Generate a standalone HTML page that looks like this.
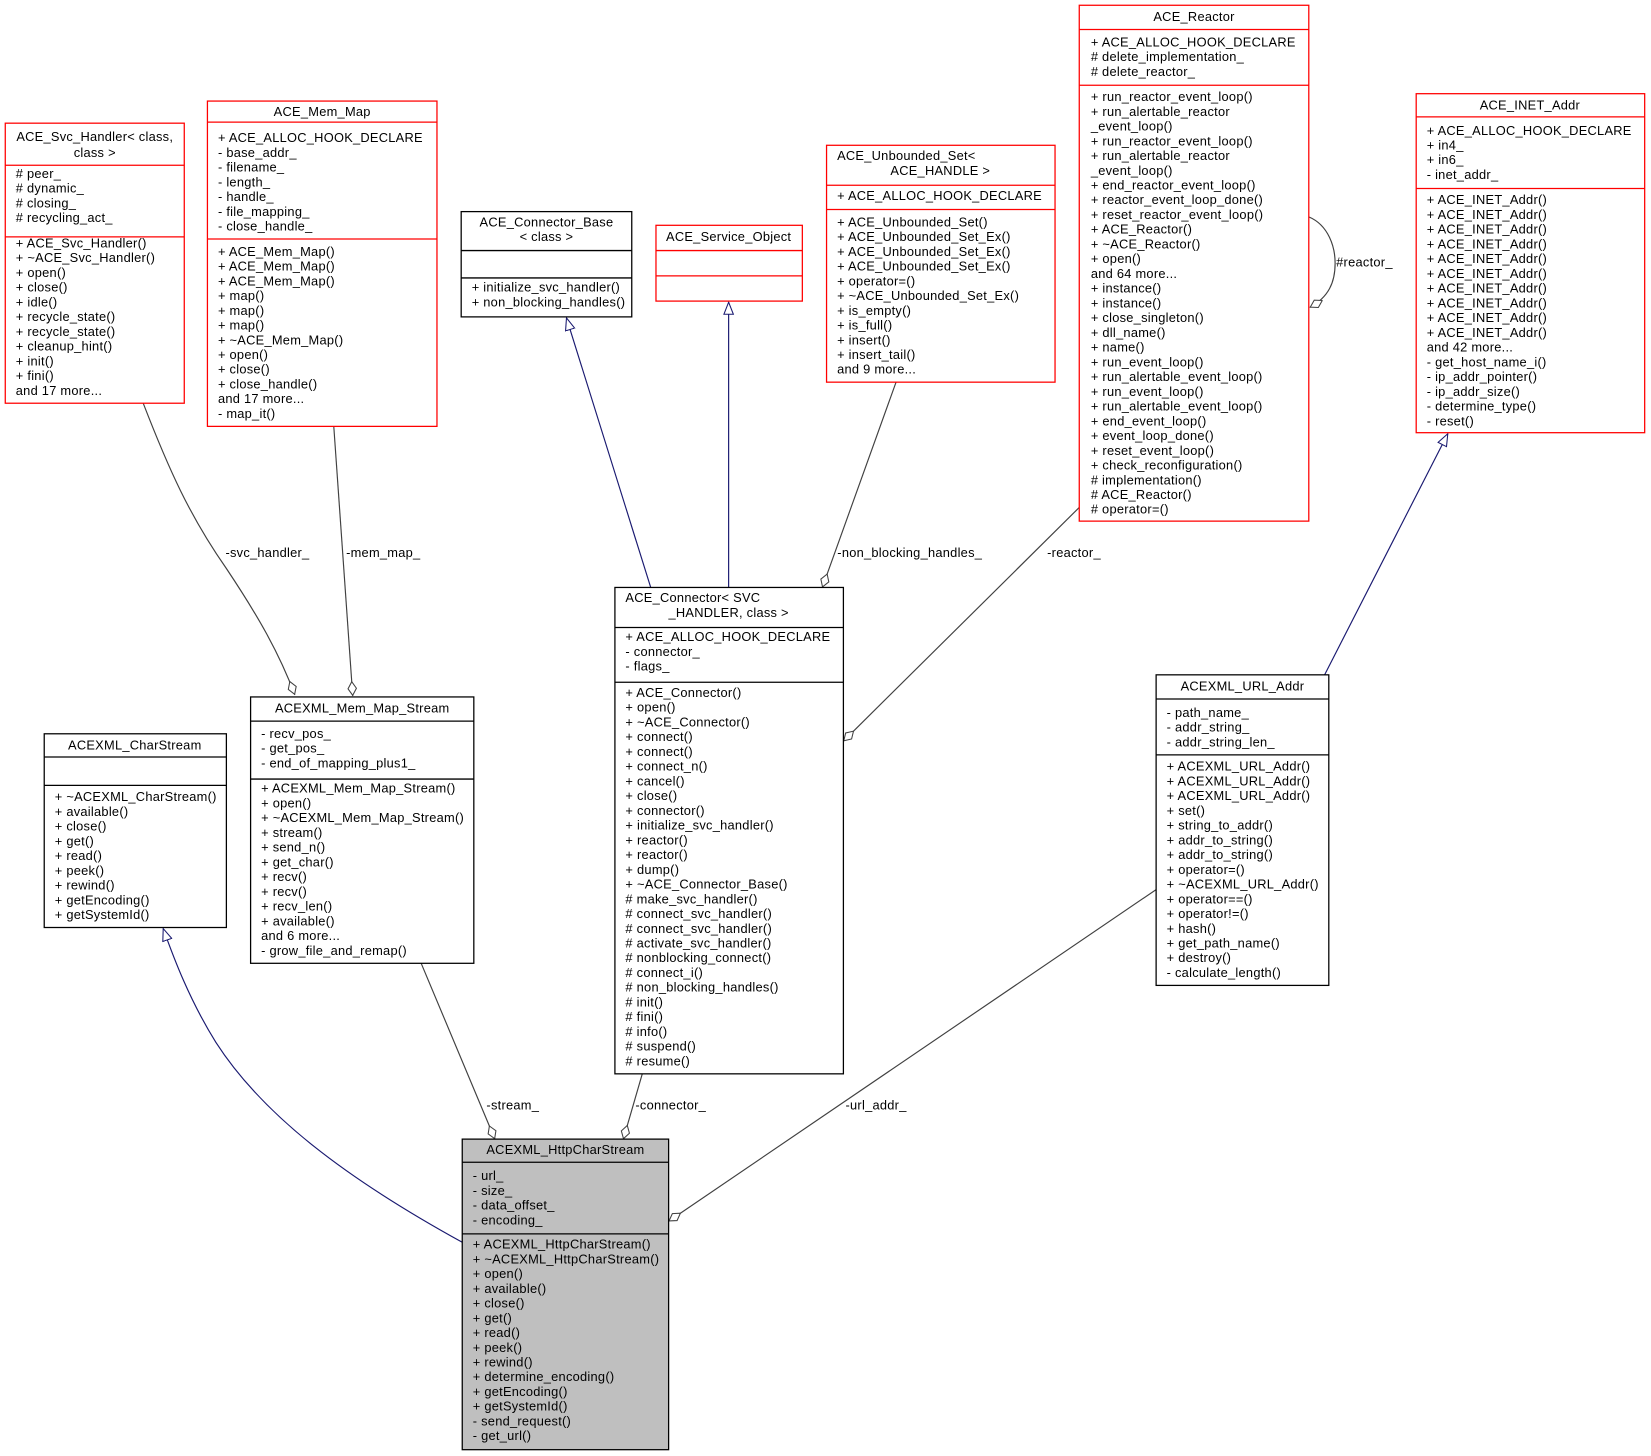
<!DOCTYPE html>
<html><head><meta charset="utf-8"><style>
html,body{margin:0;padding:0;background:#fff;}
svg{display:block;}
text{font-family:"Liberation Sans",Arial,sans-serif;font-size:12.2px;fill:#000;letter-spacing:0.25px;}
.r{fill:#fff;stroke:#ff0000;stroke-width:1.2;}
.b{fill:#fff;stroke:#000;stroke-width:1.2;}
.g{fill:#bfbfbf;stroke:#000;stroke-width:1.2;}
.lr{stroke:#ff0000;stroke-width:1.2;}
.lb{stroke:#000;stroke-width:1.2;}
.e{fill:none;stroke:#404040;stroke-width:1.1;}
.n{fill:none;stroke:#191970;stroke-width:1.1;}
.c{text-anchor:middle;}
</style></head><body>
<svg width="1651" height="1456" viewBox="0 0 1568 1383" preserveAspectRatio="none" xmlns="http://www.w3.org/2000/svg">
<defs>
<marker id="dia" markerUnits="userSpaceOnUse" markerWidth="16" markerHeight="10" refX="14" refY="5" orient="auto"><path d="M0.5,5 L7,1 L13.5,5 L7,9 z" fill="#fff" stroke="#404040" stroke-width="1"/></marker>
<marker id="tri" markerUnits="userSpaceOnUse" markerWidth="14" markerHeight="12" refX="12" refY="6" orient="auto"><path d="M0.5,1.5 L12,6 L0.5,10.5 z" fill="#fff" stroke="#191970" stroke-width="1"/></marker>
</defs>

<path class="e" d="M136,383 C160,445 180,490 215,540 C245,585 265,620 280,660" marker-end="url(#dia)"/>
<text class="c" x="254" y="529">-svc_handler_</text>
<path class="e" d="M317,405 L335,661" marker-end="url(#dia)"/>
<text class="c" x="364" y="529">-mem_map_</text>
<path class="n" d="M618,558 L538,302" marker-end="url(#tri)"/>
<path class="n" d="M692,558 L692,287" marker-end="url(#tri)"/>
<path class="e" d="M851,363 L781,558" marker-end="url(#dia)"/>
<text class="c" x="864" y="529">-non_blocking_handles_</text>
<path class="e" d="M1025,482 L801,704" marker-end="url(#dia)"/>
<text class="c" x="1020" y="529">-reactor_</text>
<path class="e" d="M1243,206 C1262,214 1268,235 1268,250 C1268,268 1262,282 1244,292" marker-end="url(#dia)"/>
<text x="1269" y="253">#reactor_</text>
<path class="n" d="M1258,641 L1375,412" marker-end="url(#tri)"/>
<path class="n" d="M439,1180 C330,1120 250,1060 205,990 C180,950 165,910 155,882" marker-end="url(#tri)"/>
<path class="e" d="M400,915 L470,1082" marker-end="url(#dia)"/>
<text class="c" x="487" y="1054">-stream_</text>
<path class="e" d="M610,1020 L592,1082" marker-end="url(#dia)"/>
<text class="c" x="637" y="1054">-connector_</text>
<path class="e" d="M1098,845 L635,1160" marker-end="url(#dia)"/>
<text class="c" x="832" y="1054">-url_addr_</text>

<rect class="r" x="5" y="117" width="170" height="266"/>
<line class="lr" x1="5" y1="157" x2="175" y2="157"/><line class="lr" x1="5" y1="225" x2="175" y2="225"/>
<text class="c" x="90" y="134">ACE_Svc_Handler&lt; class,</text><text class="c" x="90" y="149">class &gt;</text>
<text x="15" y="169"><tspan x="15"># peer_</tspan><tspan x="15" dy="14"># dynamic_</tspan><tspan x="15" dy="14"># closing_</tspan><tspan x="15" dy="14"># recycling_act_</tspan></text>
<text x="15" y="235"><tspan x="15">+ ACE_Svc_Handler()</tspan><tspan x="15" dy="14">+ ~ACE_Svc_Handler()</tspan><tspan x="15" dy="14">+ open()</tspan><tspan x="15" dy="14">+ close()</tspan><tspan x="15" dy="14">+ idle()</tspan><tspan x="15" dy="14">+ recycle_state()</tspan><tspan x="15" dy="14">+ recycle_state()</tspan><tspan x="15" dy="14">+ cleanup_hint()</tspan><tspan x="15" dy="14">+ init()</tspan><tspan x="15" dy="14">+ fini()</tspan><tspan x="15" dy="14">and 17 more...</tspan></text>

<rect class="r" x="197" y="96" width="218" height="309"/>
<line class="lr" x1="197" y1="116" x2="415" y2="116"/><line class="lr" x1="197" y1="227" x2="415" y2="227"/>
<text class="c" x="306" y="110">ACE_Mem_Map</text>
<text y="135"><tspan x="207">+ ACE_ALLOC_HOOK_DECLARE</tspan><tspan x="207" dy="14">- base_addr_</tspan><tspan x="207" dy="14">- filename_</tspan><tspan x="207" dy="14">- length_</tspan><tspan x="207" dy="14">- handle_</tspan><tspan x="207" dy="14">- file_mapping_</tspan><tspan x="207" dy="14">- close_handle_</tspan></text>
<text y="243"><tspan x="207">+ ACE_Mem_Map()</tspan><tspan x="207" dy="14">+ ACE_Mem_Map()</tspan><tspan x="207" dy="14">+ ACE_Mem_Map()</tspan><tspan x="207" dy="14">+ map()</tspan><tspan x="207" dy="14">+ map()</tspan><tspan x="207" dy="14">+ map()</tspan><tspan x="207" dy="14">+ ~ACE_Mem_Map()</tspan><tspan x="207" dy="14">+ open()</tspan><tspan x="207" dy="14">+ close()</tspan><tspan x="207" dy="14">+ close_handle()</tspan><tspan x="207" dy="14">and 17 more...</tspan><tspan x="207" dy="14">- map_it()</tspan></text>

<rect class="b" x="438" y="201" width="162" height="100"/>
<line class="lb" x1="438" y1="238" x2="600" y2="238"/><line class="lb" x1="438" y1="264" x2="600" y2="264"/>
<text class="c" x="519" y="215">ACE_Connector_Base</text><text class="c" x="519" y="229">&lt; class &gt;</text>
<text y="277"><tspan x="448">+ initialize_svc_handler()</tspan><tspan x="448" dy="14">+ non_blocking_handles()</tspan></text>

<rect class="r" x="623" y="214" width="139" height="72"/>
<line class="lr" x1="623" y1="238" x2="762" y2="238"/><line class="lr" x1="623" y1="262" x2="762" y2="262"/>
<text class="c" x="692" y="229">ACE_Service_Object</text>

<rect class="r" x="785" y="138" width="217" height="225"/>
<line class="lr" x1="785" y1="176" x2="1002" y2="176"/><line class="lr" x1="785" y1="199" x2="1002" y2="199"/>
<text x="795" y="152">ACE_Unbounded_Set&lt;</text><text class="c" x="893" y="166">ACE_HANDLE &gt;</text>
<text x="795" y="190">+ ACE_ALLOC_HOOK_DECLARE</text>
<text y="215"><tspan x="795">+ ACE_Unbounded_Set()</tspan><tspan x="795" dy="14">+ ACE_Unbounded_Set_Ex()</tspan><tspan x="795" dy="14">+ ACE_Unbounded_Set_Ex()</tspan><tspan x="795" dy="14">+ ACE_Unbounded_Set_Ex()</tspan><tspan x="795" dy="14">+ operator=()</tspan><tspan x="795" dy="14">+ ~ACE_Unbounded_Set_Ex()</tspan><tspan x="795" dy="14">+ is_empty()</tspan><tspan x="795" dy="14">+ is_full()</tspan><tspan x="795" dy="14">+ insert()</tspan><tspan x="795" dy="14">+ insert_tail()</tspan><tspan x="795" dy="14">and 9 more...</tspan></text>

<rect class="r" x="1025" y="5" width="218" height="490"/>
<line class="lr" x1="1025" y1="28" x2="1243" y2="28"/><line class="lr" x1="1025" y1="81" x2="1243" y2="81"/>
<text class="c" x="1134" y="20">ACE_Reactor</text>
<text y="44"><tspan x="1036">+ ACE_ALLOC_HOOK_DECLARE</tspan><tspan x="1036" dy="14"># delete_implementation_</tspan><tspan x="1036" dy="14"># delete_reactor_</tspan></text>
<text y="96"><tspan x="1036">+ run_reactor_event_loop()</tspan><tspan x="1036" dy="14">+ run_alertable_reactor</tspan><tspan x="1036" dy="14">_event_loop()</tspan><tspan x="1036" dy="14">+ run_reactor_event_loop()</tspan><tspan x="1036" dy="14">+ run_alertable_reactor</tspan><tspan x="1036" dy="14">_event_loop()</tspan><tspan x="1036" dy="14">+ end_reactor_event_loop()</tspan><tspan x="1036" dy="14">+ reactor_event_loop_done()</tspan><tspan x="1036" dy="14">+ reset_reactor_event_loop()</tspan><tspan x="1036" dy="14">+ ACE_Reactor()</tspan><tspan x="1036" dy="14">+ ~ACE_Reactor()</tspan><tspan x="1036" dy="14">+ open()</tspan><tspan x="1036" dy="14">and 64 more...</tspan><tspan x="1036" dy="14">+ instance()</tspan><tspan x="1036" dy="14">+ instance()</tspan><tspan x="1036" dy="14">+ close_singleton()</tspan><tspan x="1036" dy="14">+ dll_name()</tspan><tspan x="1036" dy="14">+ name()</tspan><tspan x="1036" dy="14">+ run_event_loop()</tspan><tspan x="1036" dy="14">+ run_alertable_event_loop()</tspan><tspan x="1036" dy="14">+ run_event_loop()</tspan><tspan x="1036" dy="14">+ run_alertable_event_loop()</tspan><tspan x="1036" dy="14">+ end_event_loop()</tspan><tspan x="1036" dy="14">+ event_loop_done()</tspan><tspan x="1036" dy="14">+ reset_event_loop()</tspan><tspan x="1036" dy="14">+ check_reconfiguration()</tspan><tspan x="1036" dy="14"># implementation()</tspan><tspan x="1036" dy="14"># ACE_Reactor()</tspan><tspan x="1036" dy="14"># operator=()</tspan></text>

<rect class="r" x="1345" y="89" width="217" height="322"/>
<line class="lr" x1="1345" y1="111" x2="1562" y2="111"/><line class="lr" x1="1345" y1="179" x2="1562" y2="179"/>
<text class="c" x="1453" y="104">ACE_INET_Addr</text>
<text y="128"><tspan x="1355">+ ACE_ALLOC_HOOK_DECLARE</tspan><tspan x="1355" dy="14">+ in4_</tspan><tspan x="1355" dy="14">+ in6_</tspan><tspan x="1355" dy="14">- inet_addr_</tspan></text>
<text y="194"><tspan x="1355">+ ACE_INET_Addr()</tspan><tspan x="1355" dy="14">+ ACE_INET_Addr()</tspan><tspan x="1355" dy="14">+ ACE_INET_Addr()</tspan><tspan x="1355" dy="14">+ ACE_INET_Addr()</tspan><tspan x="1355" dy="14">+ ACE_INET_Addr()</tspan><tspan x="1355" dy="14">+ ACE_INET_Addr()</tspan><tspan x="1355" dy="14">+ ACE_INET_Addr()</tspan><tspan x="1355" dy="14">+ ACE_INET_Addr()</tspan><tspan x="1355" dy="14">+ ACE_INET_Addr()</tspan><tspan x="1355" dy="14">+ ACE_INET_Addr()</tspan><tspan x="1355" dy="14">and 42 more...</tspan><tspan x="1355" dy="14">- get_host_name_i()</tspan><tspan x="1355" dy="14">- ip_addr_pointer()</tspan><tspan x="1355" dy="14">- ip_addr_size()</tspan><tspan x="1355" dy="14">- determine_type()</tspan><tspan x="1355" dy="14">- reset()</tspan></text>

<rect class="b" x="42" y="697" width="173" height="184"/>
<line class="lb" x1="42" y1="719" x2="215" y2="719"/><line class="lb" x1="42" y1="746" x2="215" y2="746"/>
<text class="c" x="128" y="712">ACEXML_CharStream</text>
<text y="761"><tspan x="52">+ ~ACEXML_CharStream()</tspan><tspan x="52" dy="14">+ available()</tspan><tspan x="52" dy="14">+ close()</tspan><tspan x="52" dy="14">+ get()</tspan><tspan x="52" dy="14">+ read()</tspan><tspan x="52" dy="14">+ peek()</tspan><tspan x="52" dy="14">+ rewind()</tspan><tspan x="52" dy="14">+ getEncoding()</tspan><tspan x="52" dy="14">+ getSystemId()</tspan></text>

<rect class="b" x="238" y="662" width="212" height="253"/>
<line class="lb" x1="238" y1="685" x2="450" y2="685"/><line class="lb" x1="238" y1="740" x2="450" y2="740"/>
<text class="c" x="344" y="677">ACEXML_Mem_Map_Stream</text>
<text y="701"><tspan x="248">- recv_pos_</tspan><tspan x="248" dy="14">- get_pos_</tspan><tspan x="248" dy="14">- end_of_mapping_plus1_</tspan></text>
<text y="753"><tspan x="248">+ ACEXML_Mem_Map_Stream()</tspan><tspan x="248" dy="14">+ open()</tspan><tspan x="248" dy="14">+ ~ACEXML_Mem_Map_Stream()</tspan><tspan x="248" dy="14">+ stream()</tspan><tspan x="248" dy="14">+ send_n()</tspan><tspan x="248" dy="14">+ get_char()</tspan><tspan x="248" dy="14">+ recv()</tspan><tspan x="248" dy="14">+ recv()</tspan><tspan x="248" dy="14">+ recv_len()</tspan><tspan x="248" dy="14">+ available()</tspan><tspan x="248" dy="14">and 6 more...</tspan><tspan x="248" dy="14">- grow_file_and_remap()</tspan></text>

<rect class="b" x="584" y="558" width="217" height="462"/>
<line class="lb" x1="584" y1="596" x2="801" y2="596"/><line class="lb" x1="584" y1="648" x2="801" y2="648"/>
<text x="594" y="572">ACE_Connector&lt; SVC</text><text class="c" x="692" y="586">_HANDLER, class &gt;</text>
<text y="609"><tspan x="594">+ ACE_ALLOC_HOOK_DECLARE</tspan><tspan x="594" dy="14">- connector_</tspan><tspan x="594" dy="14">- flags_</tspan></text>
<text y="662"><tspan x="594">+ ACE_Connector()</tspan><tspan x="594" dy="14">+ open()</tspan><tspan x="594" dy="14">+ ~ACE_Connector()</tspan><tspan x="594" dy="14">+ connect()</tspan><tspan x="594" dy="14">+ connect()</tspan><tspan x="594" dy="14">+ connect_n()</tspan><tspan x="594" dy="14">+ cancel()</tspan><tspan x="594" dy="14">+ close()</tspan><tspan x="594" dy="14">+ connector()</tspan><tspan x="594" dy="14">+ initialize_svc_handler()</tspan><tspan x="594" dy="14">+ reactor()</tspan><tspan x="594" dy="14">+ reactor()</tspan><tspan x="594" dy="14">+ dump()</tspan><tspan x="594" dy="14">+ ~ACE_Connector_Base()</tspan><tspan x="594" dy="14"># make_svc_handler()</tspan><tspan x="594" dy="14"># connect_svc_handler()</tspan><tspan x="594" dy="14"># connect_svc_handler()</tspan><tspan x="594" dy="14"># activate_svc_handler()</tspan><tspan x="594" dy="14"># nonblocking_connect()</tspan><tspan x="594" dy="14"># connect_i()</tspan><tspan x="594" dy="14"># non_blocking_handles()</tspan><tspan x="594" dy="14"># init()</tspan><tspan x="594" dy="14"># fini()</tspan><tspan x="594" dy="14"># info()</tspan><tspan x="594" dy="14"># suspend()</tspan><tspan x="594" dy="14"># resume()</tspan></text>

<rect class="b" x="1098" y="641" width="164" height="295"/>
<line class="lb" x1="1098" y1="664" x2="1262" y2="664"/><line class="lb" x1="1098" y1="717" x2="1262" y2="717"/>
<text class="c" x="1180" y="656">ACEXML_URL_Addr</text>
<text y="681"><tspan x="1108">- path_name_</tspan><tspan x="1108" dy="14">- addr_string_</tspan><tspan x="1108" dy="14">- addr_string_len_</tspan></text>
<text y="732"><tspan x="1108">+ ACEXML_URL_Addr()</tspan><tspan x="1108" dy="14">+ ACEXML_URL_Addr()</tspan><tspan x="1108" dy="14">+ ACEXML_URL_Addr()</tspan><tspan x="1108" dy="14">+ set()</tspan><tspan x="1108" dy="14">+ string_to_addr()</tspan><tspan x="1108" dy="14">+ addr_to_string()</tspan><tspan x="1108" dy="14">+ addr_to_string()</tspan><tspan x="1108" dy="14">+ operator=()</tspan><tspan x="1108" dy="14">+ ~ACEXML_URL_Addr()</tspan><tspan x="1108" dy="14">+ operator==()</tspan><tspan x="1108" dy="14">+ operator!=()</tspan><tspan x="1108" dy="14">+ hash()</tspan><tspan x="1108" dy="14">+ get_path_name()</tspan><tspan x="1108" dy="14">+ destroy()</tspan><tspan x="1108" dy="14">- calculate_length()</tspan></text>

<rect class="g" x="439" y="1082" width="196" height="295"/>
<line class="lb" x1="439" y1="1104" x2="635" y2="1104"/><line class="lb" x1="439" y1="1172" x2="635" y2="1172"/>
<text class="c" x="537" y="1096">ACEXML_HttpCharStream</text>
<text y="1121"><tspan x="449">- url_</tspan><tspan x="449" dy="14">- size_</tspan><tspan x="449" dy="14">- data_offset_</tspan><tspan x="449" dy="14">- encoding_</tspan></text>
<text y="1186"><tspan x="449">+ ACEXML_HttpCharStream()</tspan><tspan x="449" dy="14">+ ~ACEXML_HttpCharStream()</tspan><tspan x="449" dy="14">+ open()</tspan><tspan x="449" dy="14">+ available()</tspan><tspan x="449" dy="14">+ close()</tspan><tspan x="449" dy="14">+ get()</tspan><tspan x="449" dy="14">+ read()</tspan><tspan x="449" dy="14">+ peek()</tspan><tspan x="449" dy="14">+ rewind()</tspan><tspan x="449" dy="14">+ determine_encoding()</tspan><tspan x="449" dy="14">+ getEncoding()</tspan><tspan x="449" dy="14">+ getSystemId()</tspan><tspan x="449" dy="14">- send_request()</tspan><tspan x="449" dy="14">- get_url()</tspan></text>
</svg>
</body></html>
